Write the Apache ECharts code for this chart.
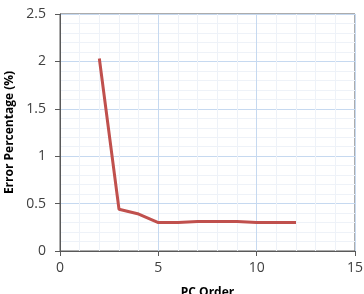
<!DOCTYPE html>
<html><head><meta charset="utf-8">
<script src="https://cdn.jsdelivr.net/npm/echarts@6/dist/echarts.min.js"></script>
<style>html,body{margin:0;padding:0;background:#fff}#c{width:364px;height:294px}</style>
</head><body><div id="c"></div>
<script>
const pcOrder = [2, 3, 4, 5, 6, 7, 8, 9, 10, 11, 12];
const errorPct = [2.03, 0.44, 0.39, 0.30, 0.30, 0.31, 0.31, 0.31, 0.30, 0.30, 0.30];
const xTitle = 'PC Order';
const yTitle = 'Error Percentage (%)';

const chart = echarts.init(document.getElementById('c'), null, {renderer: 'canvas'});
const font = '"Open Sans", "Liberation Sans", sans-serif';
chart.setOption({
  animation: false,
  grid: {left: 60, right: 9, top: 14, bottom: 43, show: true, borderColor: '#595959', borderWidth: 1, containLabel: false, outerBoundsMode: 'none'},
  xAxis: {
    type: 'value', min: 0, max: 15, interval: 5,
    name: xTitle, nameLocation: 'middle', nameGap: 36,
    nameTextStyle: {fontFamily: font, fontSize: 12, fontWeight: 'bold', color: '#000'},
    axisLine: {show: true, lineStyle: {color: '#595959', width: 1}},
    axisTick: {show: true, length: 5, lineStyle: {color: '#595959'}},
    axisLabel: {fontFamily: font, fontSize: 14, color: '#404040', margin: 10},
    splitLine: {show: true, lineStyle: {color: '#c6d9f0', width: 1}},
    minorSplitLine: {show: true, lineStyle: {color: '#eef2f8', width: 1}},
    minorTick: {show: false, splitNumber: 5}
  },
  yAxis: {
    type: 'value', min: 0, max: 2.5, interval: 0.5,
    name: yTitle, nameLocation: 'middle', nameGap: 44,
    nameTextStyle: {fontFamily: font, fontSize: 12, fontWeight: 'bold', color: '#000'},
    axisLine: {show: true, lineStyle: {color: '#595959', width: 1}},
    axisTick: {show: true, length: 5, lineStyle: {color: '#595959'}},
    axisLabel: {fontFamily: font, fontSize: 14, color: '#404040', margin: 14},
    splitLine: {show: true, lineStyle: {color: '#c6d9f0', width: 1}},
    minorSplitLine: {show: true, lineStyle: {color: '#eef2f8', width: 1}},
    minorTick: {show: false, splitNumber: 5}
  },
  series: [{
    type: 'line',
    data: pcOrder.map((x, i) => [x, errorPct[i]]),
    showSymbol: false,
    lineStyle: {color: '#c0504d', width: 3},
    itemStyle: {color: '#c0504d'}
  }]
});
</script></body></html>
